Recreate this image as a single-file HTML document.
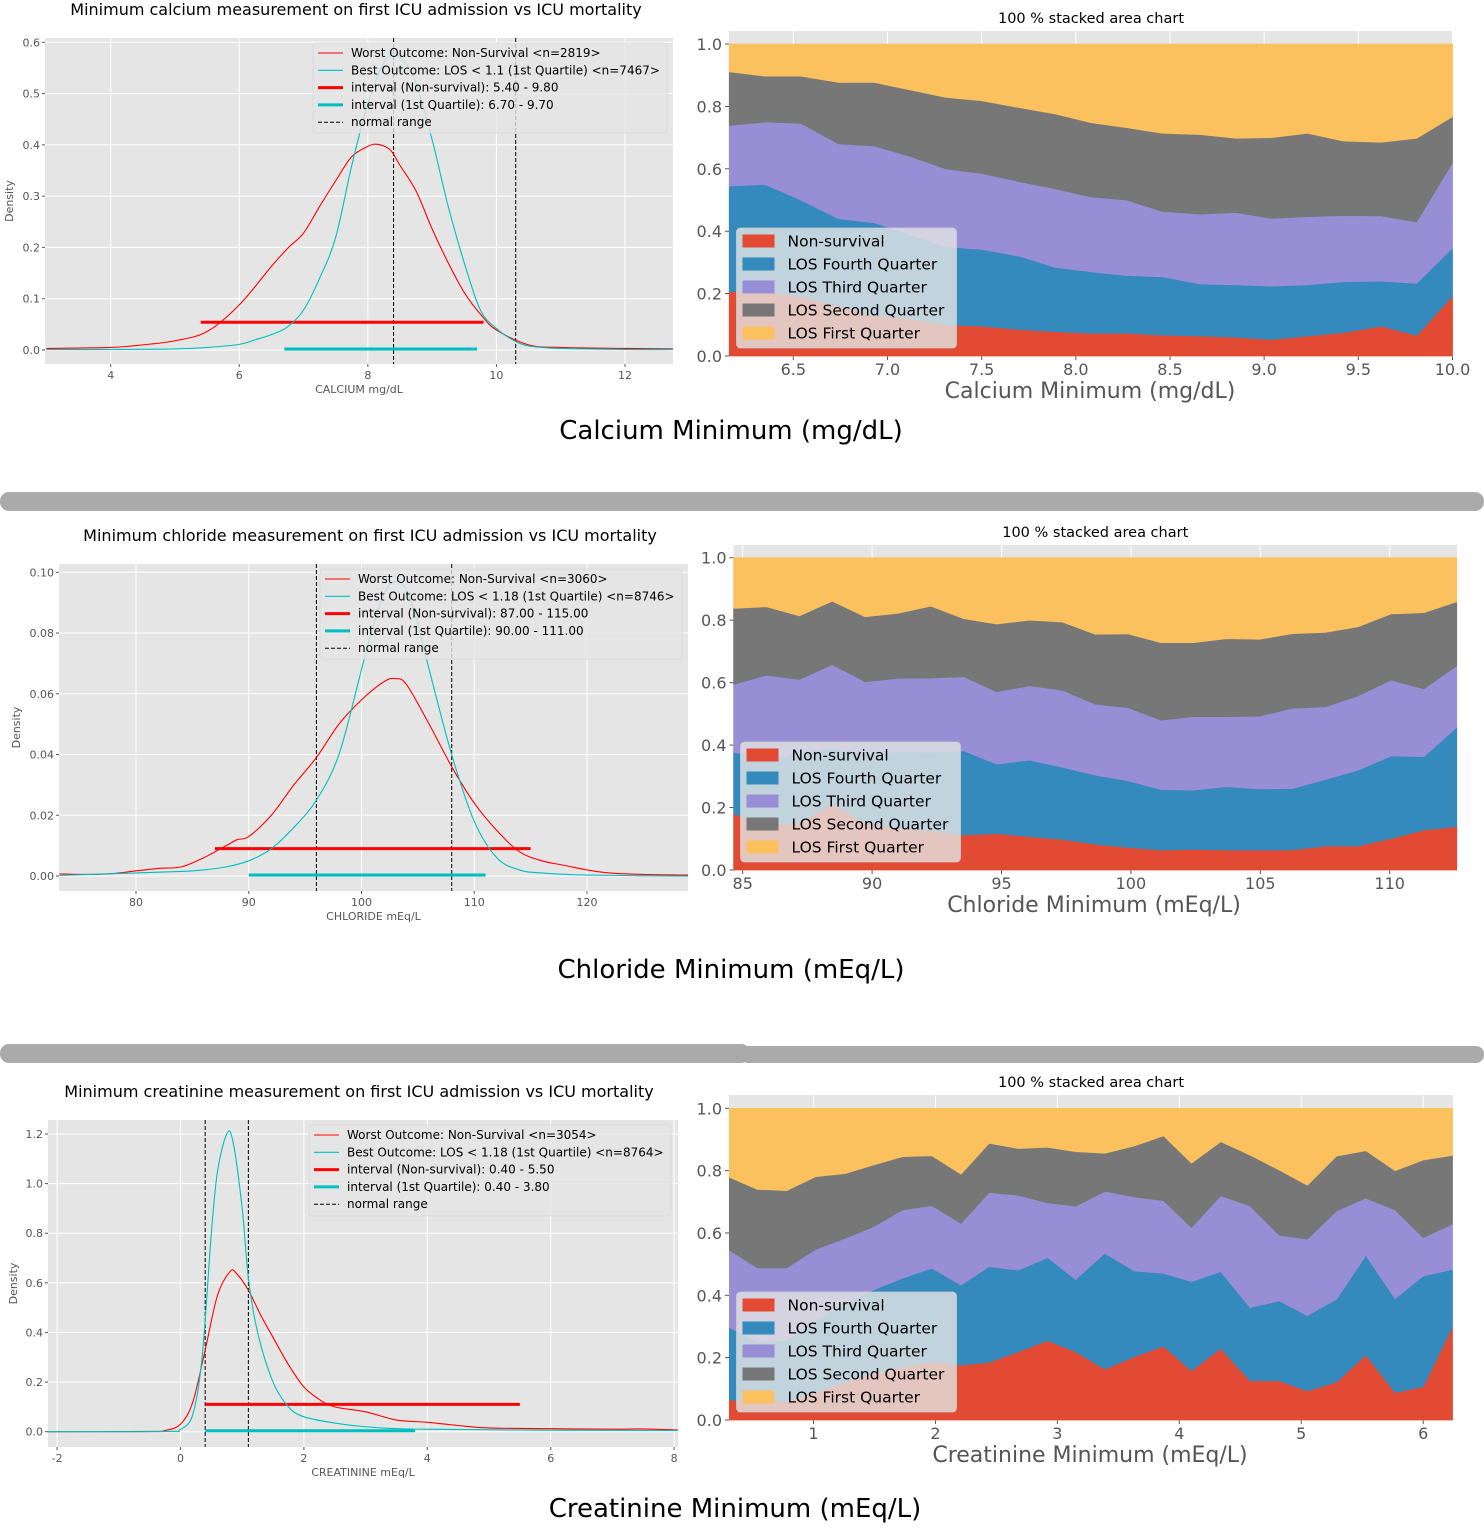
<!DOCTYPE html>
<html><head><meta charset="utf-8">
<style>
html,body{margin:0;padding:0;background:#fff;}
body{width:1484px;height:1540px;position:relative;overflow:hidden;font-family:"DejaVu Sans","Liberation Sans",sans-serif;}
svg{position:absolute;left:0;top:0;}
</style></head>
<body>
<svg id="root" width="1484" height="1540" viewBox="0 0 1484 1540" xmlns="http://www.w3.org/2000/svg">
  <text x="731" y="439" font-size="26" text-anchor="middle" fill="#000" font-family="DejaVu Sans, sans-serif">Calcium Minimum (mg/dL)</text>
  <rect x="0" y="492" width="1484" height="19" rx="9" fill="#aaaaaa"/>
  <text x="731" y="978" font-size="26" text-anchor="middle" fill="#000" font-family="DejaVu Sans, sans-serif">Chloride Minimum (mEq/L)</text>
  <rect x="0" y="1044" width="750" height="19" rx="9" fill="#aaaaaa"/>
  <rect x="740" y="1046" width="744" height="17" rx="8" fill="#aaaaaa"/>
  <text x="735" y="1517" font-size="26" text-anchor="middle" fill="#000" font-family="DejaVu Sans, sans-serif">Creatinine Minimum (mEq/L)</text>
</svg>
<script>
// ---------- DATA: calcium density ----------
const caRedX = [3,4,4.5,5,5.5,6,6.5,6.75,7,7.25,7.5,7.75,8,8.15,8.35,8.5,8.75,9,9.25,9.5,9.75,10,10.5,11,12,12.75];
const caRedY = [.003,.005,.01,.018,.036,.088,.163,.198,.228,.28,.33,.377,.397,.401,.39,.36,.31,.236,.17,.112,.07,.039,.01,.005,.003,.002];
const caCyanX = [3,4,5,5.5,6,6.25,6.5,6.75,7,7.25,7.5,7.75,8,8.25,8.4,8.55,8.75,9,9.25,9.5,9.75,10,10.25,10.5,11,12,12.75];
const caCyanY = [.001,.001,.002,.005,.011,.02,.03,.045,.078,.14,.22,.36,.48,.56,.575,.565,.52,.41,.28,.17,.078,.042,.02,.008,.003,.001,.001];
const caRedInterval = [5.4, 9.8];
const caCyanInterval = [6.7, 9.7];
const caNormal = [8.4, 10.3];
const caXTicks = [4,6,8,10,12];
const caYTicks = [0,0.1,0.2,0.3,0.4,0.5,0.6];
const caYTickLabels = ['0.0','0.1','0.2','0.3','0.4','0.5','0.6'];
const caLegend = ['Worst Outcome: Non-Survival <n=2819>','Best Outcome: LOS < 1.1 (1st Quartile) <n=7467>','interval (Non-survival): 5.40 - 9.80','interval (1st Quartile): 6.70 - 9.70','normal range'];

// ---------- DATA: chloride density ----------
const clRedX = [73.2,76,78,80,82,84,86,88,89,90,92,94,96,98,100,102,103,104,106,108,110,112,114,116,118,120,122,125,129];
const clRedY = [.0007,.0005,.0008,.0017,.0025,.003,.006,.01,.012,.013,.02,.03,.039,.05,.058,.064,.065,.063,.05,.036,.024,.015,.008,.005,.0035,.002,.001,.0005,.0003];
const clCyanX = [73.2,80,84,86,88,90,92,94,96,98,100,101,102,103,104,105,106,108,110,112,114,116,120,129];
const clCyanY = [.0002,.001,.0015,.002,.003,.005,.009,.016,.025,.04,.068,.082,.093,.097,.094,.083,.068,.04,.018,.006,.002,.001,.0003,0];
const clRedInterval = [87, 115];
const clCyanInterval = [90, 111];
const clNormal = [96, 108];
const clXTicks = [80,90,100,110,120];
const clYTicks = [0,0.02,0.04,0.06,0.08,0.10];
const clYTickLabels = ['0.00','0.02','0.04','0.06','0.08','0.10'];
const clLegend = ['Worst Outcome: Non-Survival <n=3060>','Best Outcome: LOS < 1.18 (1st Quartile) <n=8746>','interval (Non-survival): 87.00 - 115.00','interval (1st Quartile): 90.00 - 111.00','normal range'];

// ---------- DATA: creatinine density ----------
const crRedX = [-2.15,-0.5,-0.25,0,0.2,0.4,0.6,0.8,0.9,1.1,1.3,1.5,1.75,2,2.25,2.5,3,3.5,4,4.5,5,6,7,7.5,8.06];
const crRedY = [0,.001,.005,.03,.12,.33,.55,.645,.64,.57,.47,.38,.27,.18,.13,.1,.08,.047,.038,.025,.015,.012,.01,.011,.007];
const crCyanX = [-2.15,-0.25,0,0.2,0.35,0.5,0.6,0.75,0.85,1.0,1.1,1.25,1.5,1.75,2,2.5,3,3.5,4,5,6,8.06];
const crCyanY = [0,.001,.01,.07,.3,.8,1.05,1.2,1.17,.9,.62,.4,.2,.1,.06,.035,.02,.012,.01,.008,.006,.005];
const crRedInterval = [0.4, 5.5];
const crCyanInterval = [0.4, 3.8];
const crNormal = [0.4, 1.1];
const crXTicks = [-2,0,2,4,6,8];
const crYTicks = [0,0.2,0.4,0.6,0.8,1.0,1.2];
const crYTickLabels = ['0.0','0.2','0.4','0.6','0.8','1.0','1.2'];
const crLegend = ['Worst Outcome: Non-Survival <n=3054>','Best Outcome: LOS < 1.18 (1st Quartile) <n=8764>','interval (Non-survival): 0.40 - 5.50','interval (1st Quartile): 0.40 - 3.80','normal range'];

// ---------- DATA: stacked (cumulative tops per layer) ----------
const stackNames = ['Non-survival','LOS Fourth Quarter','LOS Third Quarter','LOS Second Quarter','LOS First Quarter'];
const caStackX = [6.16,6.35,6.54,6.74,6.93,7.12,7.31,7.50,7.70,7.89,8.08,8.27,8.46,8.66,8.85,9.04,9.23,9.42,9.62,9.81,10.0];
const caTopNonSurvival = [.207,.205,.19,.16,.13,.12,.10,.096,.085,.078,.073,.073,.067,.064,.06,.053,.064,.075,.096,.066,.192];
const caTopFourth = [.545,.55,.5,.44,.427,.39,.35,.342,.32,.284,.27,.258,.254,.231,.228,.224,.228,.238,.24,.233,.346];
const caTopThird = [.739,.75,.746,.68,.673,.64,.60,.585,.559,.536,.51,.50,.463,.455,.46,.441,.447,.45,.449,.43,.62];
const caTopSecond = [.911,.897,.897,.877,.877,.853,.829,.818,.796,.776,.748,.732,.714,.71,.698,.70,.714,.689,.685,.698,.767];
const caStackXTicks = [6.5,7.0,7.5,8.0,8.5,9.0,9.5,10.0];
const caStackXTickLabels = ['6.5','7.0','7.5','8.0','8.5','9.0','9.5','10.0'];

const clStackX = [84.65,85.92,87.19,88.46,89.73,91.0,92.27,93.54,94.81,96.08,97.35,98.62,99.89,101.16,102.43,103.7,104.97,106.24,107.51,108.78,110.05,111.32,112.59];
const clTopNonSurvival = [.18,.144,.15,.213,.15,.135,.125,.112,.117,.107,.098,.083,.072,.064,.066,.064,.064,.064,.077,.077,.101,.128,.139];
const clTopFourth = [.377,.357,.373,.392,.373,.379,.377,.382,.339,.352,.329,.304,.286,.258,.256,.267,.26,.261,.29,.32,.365,.363,.457];
const clTopThird = [.594,.624,.61,.658,.603,.614,.615,.619,.571,.59,.576,.531,.52,.48,.491,.491,.493,.518,.523,.558,.608,.58,.654];
const clTopSecond = [.838,.843,.814,.861,.811,.822,.845,.805,.788,.80,.794,.755,.756,.728,.728,.741,.739,.757,.761,.779,.82,.824,.859];
const clStackXTicks = [85,90,95,100,105,110];
const clStackXTickLabels = ['85','90','95','100','105','110'];

const crStackX = [0.31,0.54,0.78,1.02,1.26,1.49,1.73,1.97,2.21,2.44,2.68,2.92,3.15,3.39,3.63,3.87,4.10,4.34,4.58,4.82,5.05,5.29,5.53,5.77,6.00,6.24];
const crTopNonSurvival = [.064,.06,.06,.09,.12,.15,.17,.187,.176,.185,.219,.255,.219,.163,.203,.237,.158,.23,.126,.126,.093,.122,.209,.088,.107,.30];
const crTopFourth = [.297,.25,.257,.32,.374,.417,.455,.487,.433,.492,.481,.521,.451,.535,.478,.471,.444,.476,.361,.382,.335,.388,.528,.389,.462,.483];
const crTopThird = [.545,.488,.488,.548,.583,.62,.674,.688,.631,.73,.721,.697,.686,.734,.716,.704,.618,.72,.687,.593,.58,.671,.712,.674,.585,.629];
const crTopSecond = [.779,.74,.736,.781,.791,.818,.845,.848,.789,.888,.871,.875,.861,.856,.879,.912,.824,.893,.85,.802,.753,.847,.864,.80,.834,.849];
const crStackXTicks = [1,2,3,4,5,6];
const crStackXTickLabels = ['1','2','3','4','5','6'];

const stackYTicks = [0,0.2,0.4,0.6,0.8,1.0];
const stackYTickLabels = ['0.0','0.2','0.4','0.6','0.8','1.0'];

// ---------- helpers ----------
const NS = 'http://www.w3.org/2000/svg';
const root = document.getElementById('root');
const FONT = 'DejaVu Sans, Liberation Sans, sans-serif';
function mk(parent, tag, attrs, name, inter){
  const el = document.createElementNS(NS, tag);
  for (const k in attrs) el.setAttribute(k, attrs[k]);
  
  
  parent.appendChild(el);
  return el;
}
function txt(parent, x, y, s, size, fill, anchor, name, extra){
  const a = {x:x, y:y, 'font-size':size, fill:fill, 'text-anchor':anchor||'start', 'font-family':FONT};
  if (extra) for (const k in extra) a[k] = extra[k];
  const t = mk(parent, 'text', a, name, false);
  t.textContent = s;
  return t;
}
function lin(v1,p1,v2,p2){ const b=(p2-p1)/(v2-v1); return v => p1 + (v - v1)*b; }
function smoothPath(pts){
  let d = 'M' + pts[0][0].toFixed(2) + ',' + pts[0][1].toFixed(2);
  for (let i=0;i<pts.length-1;i++){
    const p0 = pts[i-1]||pts[i], p1=pts[i], p2=pts[i+1], p3=pts[i+2]||p2;
    const c1x = p1[0]+(p2[0]-p0[0])/6, c1y = p1[1]+(p2[1]-p0[1])/6;
    const c2x = p2[0]-(p3[0]-p1[0])/6, c2y = p2[1]-(p3[1]-p1[1])/6;
    d += ' C'+c1x.toFixed(2)+','+c1y.toFixed(2)+' '+c2x.toFixed(2)+','+c2y.toFixed(2)+' '+p2[0].toFixed(2)+','+p2[1].toFixed(2);
  }
  return d;
}

// ---------- density chart ----------
function drawDensity(c){
  const g = mk(root, 'g', {}, c.key + '-density-chart', false);
  const sx = lin(c.xRef[0], c.xRef[1], c.xRef[2], c.xRef[3]);
  const sy = lin(c.yRef[0], c.yRef[1], c.yRef[2], c.yRef[3]);
  const P = c.plot;
  const clipId = c.key + '-dclip';
  const cp = mk(g, 'clipPath', {id: clipId}, c.key + '-density-clip', false);
  mk(cp, 'rect', {x:P.x0, y:P.y0, width:P.x1-P.x0, height:P.y1-P.y0}, c.key + '-density-clip-rect', false);
  mk(g, 'rect', {x:P.x0, y:P.y0, width:P.x1-P.x0, height:P.y1-P.y0, fill:'#e5e5e5'}, c.key + '-density-plot-background', false);
  txt(g, c.titleX, c.titleY, c.title, 16, '#000', 'middle', c.key + '-density-title');
  c.xTicks.forEach(v => {
    const x = sx(v);
    mk(g, 'line', {x1:x, x2:x, y1:P.y0, y2:P.y1, stroke:'#fff', 'stroke-width':1}, c.key + '-x-gridline', false);
    mk(g, 'line', {x1:x, x2:x, y1:P.y1, y2:P.y1+3, stroke:'#555', 'stroke-width':1}, c.key + '-x-tick-mark', false);
    txt(g, x, P.y1+15, String(v), 11, '#555', 'middle', c.key + '-x-tick-label');
  });
  c.yTicks.forEach((v,i) => {
    const y = sy(v);
    mk(g, 'line', {x1:P.x0, x2:P.x1, y1:y, y2:y, stroke:'#fff', 'stroke-width':1}, c.key + '-y-gridline', false);
    mk(g, 'line', {x1:P.x0-3, x2:P.x0, y1:y, y2:y, stroke:'#555', 'stroke-width':1}, c.key + '-y-tick-mark', false);
    txt(g, P.x0-5, y+4, c.yTickLabels[i], 11, '#555', 'end', c.key + '-y-tick-label');
  });
  txt(g, (P.x0+P.x1)/2, P.y1+29, c.xLabel, 11, '#555', 'middle', c.key + '-x-axis-title');
  txt(g, 0, 0, 'Density', 11, '#555', 'middle', c.key + '-y-axis-title', {transform:'translate('+c.yLabelX+','+((P.y0+P.y1)/2)+') rotate(-90)'});
  const inner = mk(g, 'g', {'clip-path':'url(#'+clipId+')'}, c.key + '-density-series', false);
  c.normal.forEach(v => {
    mk(inner, 'line', {x1:sx(v), x2:sx(v), y1:P.y0, y2:P.y1, stroke:'#000', 'stroke-width':1, 'stroke-dasharray':'4,2'}, c.key + '-normal-range-line', false);
  });
  const yr = sy(c.redBarY);
  mk(inner, 'line', {x1:sx(c.redInterval[0]), x2:sx(c.redInterval[1]), y1:yr, y2:yr, stroke:'#ff0000', 'stroke-width':3}, c.key + '-interval-non-survival', false);
  mk(inner, 'line', {x1:sx(c.cyanInterval[0]), x2:sx(c.cyanInterval[1]), y1:sy(0)-1, y2:sy(0)-1, stroke:'#00bfbf', 'stroke-width':3}, c.key + '-interval-first-quartile', false);
  const rp = c.redX.map((x,i)=>[sx(x), sy(c.redY[i])]);
  const cpth = c.cyanX.map((x,i)=>[sx(x), sy(c.cyanY[i])]);
  mk(inner, 'path', {d:smoothPath(rp), fill:'none', stroke:'#ff0000', 'stroke-width':1.1}, c.key + '-non-survival-density-line', false);
  mk(inner, 'path', {d:smoothPath(cpth), fill:'none', stroke:'#00bfbf', 'stroke-width':1.1}, c.key + '-first-quartile-density-line', false);
  const L = c.legend;
  const lg = mk(g, 'g', {}, c.key + '-density-legend', false);
  mk(lg, 'rect', {x:L.x0, y:L.y0, width:L.x1-L.x0, height:L.y1-L.y0, rx:3, fill:'#e5e5e5', 'fill-opacity':0.8, stroke:'#d8d8d8', 'stroke-width':0.8}, c.key + '-legend-box', false);
  const styles = [
    {stroke:'#ff0000', w:1.1},
    {stroke:'#00bfbf', w:1.1},
    {stroke:'#ff0000', w:3},
    {stroke:'#00bfbf', w:3},
    {stroke:'#000', w:1, dash:'4,2'}
  ];
  c.legendLabels.forEach((s,i) => {
    const y = L.y0 + 10 + i*17.3;
    const a = {x1:L.x0+5, x2:L.x0+30, y1:y, y2:y, stroke:styles[i].stroke, 'stroke-width':styles[i].w};
    if (styles[i].dash) a['stroke-dasharray'] = styles[i].dash;
    mk(lg, 'line', a, c.key + '-legend-swatch', false);
    txt(lg, L.x0+38, y+4, s, 12, '#000', 'start', c.key + '-legend-entry');
  });
}

// ---------- stacked chart ----------
const stackColors = ['#E24A33','#348ABD','#988ED5','#777777','#FBC15E'];
const stackKeys = ['non-survival','los-fourth-quarter','los-third-quarter','los-second-quarter','los-first-quarter'];
function drawStack(c){
  const g = mk(root, 'g', {}, c.key + '-stacked-chart', false);
  const sx = lin(c.xRef[0], c.xRef[1], c.xRef[2], c.xRef[3]);
  const sy = lin(0, c.yRef[0], 1, c.yRef[1]);
  const P = c.plot;
  mk(g, 'rect', {x:P.x0, y:P.y0, width:P.x1-P.x0, height:P.y1-P.y0, fill:'#e5e5e5'}, c.key + '-stacked-plot-background', false);
  txt(g, (P.x0+P.x1)/2, P.y0-8, '100 % stacked area chart', 14.5, '#000', 'middle', c.key + '-stacked-title');
  c.xTicks.forEach((v,i) => {
    const x = sx(v);
    mk(g, 'line', {x1:x, x2:x, y1:P.y0, y2:P.y1, stroke:'#fff', 'stroke-width':1}, c.key + '-stacked-x-gridline', false);
    mk(g, 'line', {x1:x, x2:x, y1:P.y1, y2:P.y1+4, stroke:'#555', 'stroke-width':1}, c.key + '-stacked-x-tick-mark', false);
    txt(g, x, P.y1+19, c.xTickLabels[i], 16, '#555', 'middle', c.key + '-stacked-x-tick-label');
  });
  stackYTicks.forEach((v,i) => {
    const y = sy(v);
    mk(g, 'line', {x1:P.x0, x2:P.x1, y1:y, y2:y, stroke:'#fff', 'stroke-width':1}, c.key + '-stacked-y-gridline', false);
    mk(g, 'line', {x1:P.x0-4, x2:P.x0, y1:y, y2:y, stroke:'#555', 'stroke-width':1}, c.key + '-stacked-y-tick-mark', false);
    txt(g, P.x0-7, y+6, stackYTickLabels[i], 16, '#555', 'end', c.key + '-stacked-y-tick-label');
  });
  txt(g, c.xLabelX, P.y1+42, c.xLabel, 22, '#555', 'middle', c.key + '-stacked-x-axis-title');
  const n = c.x.length;
  const ones = c.x.map(()=>1), zeros = c.x.map(()=>0);
  const tops = [c.tops[0], c.tops[1], c.tops[2], c.tops[3], ones];
  for (let k=0;k<5;k++){
    const lo = k===0 ? zeros : tops[k-1];
    const hi = tops[k];
    let pts = [];
    for (let i=0;i<n;i++) pts.push(sx(c.x[i]).toFixed(2)+','+sy(hi[i]).toFixed(2));
    for (let i=n-1;i>=0;i--) pts.push(sx(c.x[i]).toFixed(2)+','+sy(lo[i]).toFixed(2));
    mk(g, 'polygon', {points:pts.join(' '), fill:stackColors[k], stroke:stackColors[k], 'stroke-width':0.8}, c.key + '-area-' + stackKeys[k], false);
  }
  const L = c.legend;
  const lg = mk(g, 'g', {}, c.key + '-stacked-legend', false);
  mk(lg, 'rect', {x:L.x0, y:L.y0, width:220, height:120, rx:4, fill:'#e5e5e5', 'fill-opacity':0.8, stroke:'#cccccc', 'stroke-width':0.8}, c.key + '-stacked-legend-box', false);
  stackNames.forEach((s,i) => {
    const y = L.y0 + 13 + i*23;
    mk(lg, 'rect', {x:L.x0+6, y:y-6.5, width:32, height:13, fill:stackColors[i]}, c.key + '-stacked-legend-swatch', false);
    txt(lg, L.x0+51, y+5.5, s, 15.5, '#000', 'start', c.key + '-stacked-legend-entry');
  });
}

drawDensity({key:'calcium', plot:{x0:45,x1:673,y0:38,y1:364}, xRef:[4,110.7,12,625], yRef:[0,350,0.6,42.3],
  xTicks:caXTicks, yTicks:caYTicks, yTickLabels:caYTickLabels, redX:caRedX, redY:caRedY, cyanX:caCyanX, cyanY:caCyanY,
  redInterval:caRedInterval, cyanInterval:caCyanInterval, normal:caNormal, redBarY:0.054,
  title:'Minimum calcium measurement on first ICU admission vs ICU mortality', titleX:356, titleY:15,
  xLabel:'CALCIUM mg/dL', yLabelX:13, legend:{x0:313,x1:667,y0:43,y1:133}, legendLabels:caLegend});
drawDensity({key:'chloride', plot:{x0:59,x1:688,y0:564,y1:891}, xRef:[80,136,120,587], yRef:[0,876,0.1,572.3],
  xTicks:clXTicks, yTicks:clYTicks, yTickLabels:clYTickLabels, redX:clRedX, redY:clRedY, cyanX:clCyanX, cyanY:clCyanY,
  redInterval:clRedInterval, cyanInterval:clCyanInterval, normal:clNormal, redBarY:0.009,
  title:'Minimum chloride measurement on first ICU admission vs ICU mortality', titleX:370, titleY:541,
  xLabel:'CHLORIDE mEq/L', yLabelX:20, legend:{x0:320,x1:682,y0:569,y1:659}, legendLabels:clLegend});
drawDensity({key:'creatinine', plot:{x0:48,x1:678,y0:1120,y1:1447}, xRef:[-2,57.1,8,674.1], yRef:[0,1431.7,1.2,1134],
  xTicks:crXTicks, yTicks:crYTicks, yTickLabels:crYTickLabels, redX:crRedX, redY:crRedY, cyanX:crCyanX, cyanY:crCyanY,
  redInterval:crRedInterval, cyanInterval:crCyanInterval, normal:crNormal, redBarY:0.11,
  title:'Minimum creatinine measurement on first ICU admission vs ICU mortality', titleX:359, titleY:1097,
  xLabel:'CREATININE mEq/L', yLabelX:17, legend:{x0:309,x1:671,y0:1125,y1:1216}, legendLabels:crLegend});

drawStack({key:'calcium', plot:{x0:729,x1:1453,y0:31,y1:356}, xRef:[6.5,793.3,10,1452.5], yRef:[356,44],
  x:caStackX, tops:[caTopNonSurvival,caTopFourth,caTopThird,caTopSecond], xTicks:caStackXTicks, xTickLabels:caStackXTickLabels,
  xLabel:'Calcium Minimum (mg/dL)', xLabelX:1090, legend:{x0:736.5,y0:228}});
drawStack({key:'chloride', plot:{x0:733.5,x1:1457,y0:545,y1:870}, xRef:[85,742.7,110,1389.7], yRef:[870,557.7],
  x:clStackX, tops:[clTopNonSurvival,clTopFourth,clTopThird,clTopSecond], xTicks:clStackXTicks, xTickLabels:clStackXTickLabels,
  xLabel:'Chloride Minimum (mEq/L)', xLabelX:1094, legend:{x0:740.5,y0:742}});
drawStack({key:'creatinine', plot:{x0:729,x1:1453,y0:1095,y1:1420}, xRef:[1,813.5,6,1423.2], yRef:[1420,1108.3],
  x:crStackX, tops:[crTopNonSurvival,crTopFourth,crTopThird,crTopSecond], xTicks:crStackXTicks, xTickLabels:crStackXTickLabels,
  xLabel:'Creatinine Minimum (mEq/L)', xLabelX:1090, legend:{x0:736.5,y0:1292}});
</script>
</body></html>
